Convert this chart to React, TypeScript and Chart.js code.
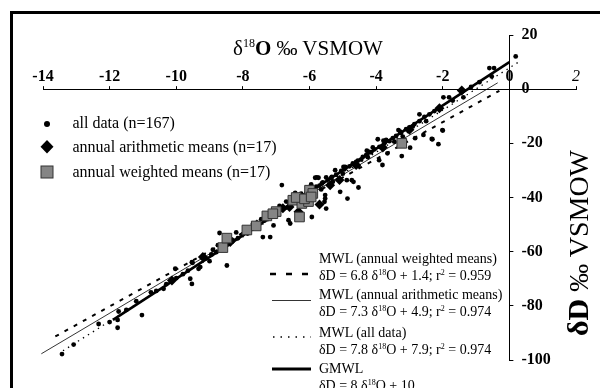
import React, { useEffect, useRef } from "react";
import { Chart, registerables } from "chart.js";

Chart.register(...registerables);

const SERIF = '"Liberation Serif", "Times New Roman", serif';

// Axis ticks
const X_TICKS = [-14, -12, -10, -8, -6, -4, -2, 0, 2];
const Y_TICKS = [-100, -80, -60, -40, -20, 0, 20];

// All data (n=167): d18O and dD values
const ALL_D18O = [
  0.19, -0.6, -0.46, -0.53, -1.43, -1.98, -1.81, -1.38, -2.1, -2.7,
  -2.01, -2.33, -2.58, -2.13, -2.98, -3.28, -3.33, -3.95, -3.78, -3.23,
  -3.66, -3.91, -3.81, -4.23, -4.53, -4.88, -5.08, -4.68, -4.53, -4.86,
  -5.53, -5.5, -5.93, -5.23, -4.93, -2.83, -4.98, -5.33, -4.73, -5.83,
  -5.73, -5.63, -5.53, -6.83, -6.43, -5.55, -5.78, -6.63, -6.58, -7.08,
  -7.4, -7.18, -8.7, -7.86, -8.48, -8.9, -9.28, -9.53, -9.58, -10.03,
  -13.43, -13.08, -11.76, -11.76, -11.73, -12.33, -11.2, -11.03, -10.76, -10.38,
  -9.53, -9.33, -9.51, -9.18, -2.31, -2.0, -4.28,
  -9.1, -8.95, -8.8, -8.65, -8.55, -8.4, -8.3, -8.15, -8.0, -7.9,
  -7.75, -7.65, -7.5, -7.35, -7.25, -7.1, -6.95, -6.85, -6.75, -6.6,
  -6.5, -6.4, -6.3, -6.2, -6.1, -6.0, -5.9, -5.8, -5.7, -5.6,
  -5.45, -5.35, -5.2, -5.05, -4.95, -4.8, -4.7, -4.55, -4.4, -4.3,
  -4.15, -4.05, -3.9, -3.75, -3.6, -3.5, -3.4, -3.25, -3.1, -3.0,
  -2.85, -2.7, -2.55, -2.4, -2.25, -1.15, -0.9, -10.6, -10.3, -10.0,
  -9.8, -9.65, -11.5, -12.0,
  -7.7, -7.0, -6.7, -6.25, -5.95, -5.5, -5.0, -4.6, -4.1, -3.7,
  -3.2, -2.9, -8.2, -8.75, -9.0, -6.05, -5.65, -4.45, -3.45, -2.5,
  -1.7, -7.45, -6.9, -5.3, -4.25,
];
const ALL_DD = [
  12.1, 7.8, 7.8, 4.7, -0.5, -3.0, -3.0, -3.0, -7.0, -9.3,
  -15.1, -18.4, -16.9, -20.3, -21.6, -15.7, -15.1, -18.5, -19.0, -24.7,
  -23.7, -26.2, -28.0, -23.1, -28.4, -33.6, -37.9, -34.2, -36.3, -40.4,
  -40.4, -44.1, -47.2, -29.9, -28.7, -18.1, -28.7, -32.4, -33.6, -32.7,
  -32.7, -34.8, -39.1, -35.4, -38.3, -41.6, -32.6, -48.4, -49.6, -50.3,
  -54.6, -54.6, -53.1, -53.3, -65.1, -59.3, -65.7, -63.9, -70.0, -66.3,
  -97.8, -94.3, -88.1, -85.2, -82.1, -86.7, -78.3, -83.4, -75.0, -73.7,
  -71.9, -66.3, -64.1, -61.4, -18.5, -15.3, -22.7,
  -62.5, -61.0, -60.2, -58.8, -58.0, -57.0, -55.8, -55.0, -53.6, -53.0,
  -51.5, -50.8, -49.6, -48.5, -47.6, -46.4, -45.6, -44.2, -43.8, -42.4,
  -41.8, -40.6, -40.0, -39.2, -38.5, -37.6, -36.9, -36.0, -35.6, -34.4,
  -33.4, -32.8, -31.6, -30.2, -29.6, -28.5, -27.4, -26.4, -25.0, -24.4,
  -23.3, -22.2, -21.3, -20.0, -19.2, -18.1, -17.3, -16.2, -14.8, -14.1,
  -12.9, -11.8, -10.2, -9.3, -8.1, 0.8, 2.6, -74.5, -72.0, -69.8,
  -68.3, -67.0, -81.5, -86.0,
  -49.8, -44.8, -41.5, -38.6, -35.2, -32.6, -31.2, -26.9, -21.5, -18.7,
  -17.5, -13.8, -52.9, -57.6, -63.5, -40.8, -37.0, -26.0, -19.4, -11.8,
  -4.2, -48.0, -43.1, -34.1, -25.1,
];

// Annual arithmetic means (n=17)
const ARITH_D18O = [-10.13, -9.2, -8.38, -7.58, -7.0, -6.6, -6.33, -6.0, -5.7, -5.38, -5.1, -4.6, -3.8, -3.0, -2.1, -1.43, -6.8];
const ARITH_DD = [-70.6, -62.0, -56.4, -50.0, -45.5, -43.5, -45.3, -39.5, -42.6, -35.5, -33.5, -28.0, -21.5, -15.0, -7.0, -0.5, -44.0];

// Annual weighted means (n=17)
const WEIGHTED_D18O = [-8.6, -8.48, -7.88, -7.6, -7.28, -7.0, -6.5, -6.3, -6.23, -6.03, -6.0, -5.9, -3.23, -6.4, -7.1, -6.15, -5.95];
const WEIGHTED_DD = [-58.5, -55.0, -52.0, -50.5, -46.8, -45.2, -41.0, -47.2, -42.2, -41.5, -37.3, -38.5, -20.0, -40.0, -46.0, -40.5, -39.8];

// Regression lines (end points)
const MWL_WEIGHTED_D18O = [-13.63, -0.3];
const MWL_WEIGHTED_DD = [-91.3, -0.6];
const MWL_ARITH_D18O = [-14.05, -0.35];
const MWL_ARITH_DD = [-97.7, 2.35];
const MWL_ALL_D18O = [-13.4, 0.3];
const MWL_ALL_DD = [-96.6, 10.2];
const GMWL_D18O = [-11.9, 0];
const GMWL_DD = [-85.2, 10];

const pts = (xs: number[], ys: number[]) => xs.map((x, i) => ({ x, y: ys[i] }));

const crossAxes = {
  id: "crossAxes",
  afterLayout(chart: any) {
    const xs = chart.scales.x;
    const ys = chart.scales.y;
    const px = xs.getPixelForValue(0);
    const py = ys.getPixelForValue(0);
    ys.left = px;
    ys.right = px + 60;
    ys.width = 60;
    xs.bottom = py;
    xs.top = py - 30;
    xs.height = 30;
  },
};

const sup = (t: string, size = 9, top = -6) => (
  <span style={{ fontSize: size, position: "relative", top, verticalAlign: "baseline" }}>{t}</span>
);

export default function App() {
  const ref = useRef<HTMLCanvasElement>(null);

  useEffect(() => {
    const lineDs = (label: string, xs: number[], ys: number[], width: number, dash: number[], order: number) => ({
      label,
      data: pts(xs, ys),
      showLine: true,
      borderColor: "#000",
      backgroundColor: "#000",
      borderWidth: width,
      borderDash: dash,
      pointRadius: 0,
      fill: false,
      clip: false as any,
      order,
    });
    const chart = new Chart(ref.current as HTMLCanvasElement, {
      type: "scatter",
      data: {
        datasets: [
          {
            label: "annual weighted means (n=17)",
            data: pts(WEIGHTED_D18O, WEIGHTED_DD),
            pointStyle: "rect",
            pointRadius: 6.8,
            backgroundColor: "#858585",
            borderColor: "#333",
            borderWidth: 1,
            clip: false as any,
            order: 1,
          },
          {
            label: "annual arithmetic means (n=17)",
            data: pts(ARITH_D18O, ARITH_DD),
            pointStyle: "rectRot",
            pointRadius: 5,
            backgroundColor: "#000",
            borderColor: "#000",
            borderWidth: 0,
            clip: false as any,
            order: 2,
          },
          {
            label: "all data (n=167)",
            data: pts(ALL_D18O, ALL_DD),
            pointStyle: "circle",
            pointRadius: 2.4,
            backgroundColor: "#000",
            borderWidth: 0,
            clip: false as any,
            order: 3,
          },
          lineDs("GMWL", GMWL_D18O, GMWL_DD, 2.6, [], 4),
          lineDs("MWL (all data)", MWL_ALL_D18O, MWL_ALL_DD, 1.3, [1.4, 4.5], 5),
          lineDs("MWL (annual arithmetic means)", MWL_ARITH_D18O, MWL_ARITH_DD, 0.8, [], 6),
          lineDs("MWL (annual weighted means)", MWL_WEIGHTED_D18O, MWL_WEIGHTED_DD, 2, [4, 6.5], 7),
        ] as any,
      },
      options: {
        animation: false,
        responsive: false,
        devicePixelRatio: 1,
        layout: { padding: { left: 43, right: 24, top: 35, bottom: 28 } },
        plugins: { legend: { display: false }, tooltip: { enabled: false } },
        scales: {
          x: {
            type: "linear",
            position: "top",
            min: -14,
            max: 2,
            afterFit: (s: any) => {
              s.height = 0;
            },
            afterBuildTicks: (s: any) => {
              s.ticks = X_TICKS.map((v) => ({ value: v }));
            },
            grid: { drawOnChartArea: false, drawTicks: true, tickLength: 3, color: "#000", lineWidth: 1 },
            border: { display: true, color: "#000", width: 1 },
            ticks: {
              color: "#000",
              padding: 0,
              maxRotation: 0,
              autoSkip: false,
              callback: (v: any) => String(v),
              font: (ctx: any) =>
                ctx.tick && ctx.tick.value === 2
                  ? { family: SERIF, size: 16, style: "italic", weight: "normal" }
                  : { family: SERIF, size: 16, weight: "bold" },
            },
          },
          y: {
            type: "linear",
            position: "right",
            min: -100,
            max: 20,
            afterFit: (s: any) => {
              s.width = 0;
            },
            afterBuildTicks: (s: any) => {
              s.ticks = Y_TICKS.map((v) => ({ value: v }));
            },
            grid: { drawOnChartArea: false, drawTicks: true, tickLength: 4, color: "#000", lineWidth: 1 },
            border: { display: true, color: "#000", width: 1 },
            ticks: {
              color: "#000",
              padding: 8,
              autoSkip: false,
              callback: (v: any) => String(v),
              font: { family: SERIF, size: 16, weight: "bold" },
            },
          },
        },
      } as any,
      plugins: [crossAxes],
    });
    return () => chart.destroy();
  }, []);

  const text = (top: number, left: number, size: number, content: any, lh = 18) => (
    <div
      style={{
        position: "absolute",
        left,
        top: top - lh / 2,
        lineHeight: lh + "px",
        fontSize: size,
        fontFamily: SERIF,
        whiteSpace: "nowrap",
        color: "#000",
      }}
    >
      {content}
    </div>
  );

  return (
    <div style={{ position: "fixed", left: 0, top: 0, width: 600, height: 388, overflow: "hidden", background: "#fff" }}>
      <div style={{ position: "absolute", left: 10, top: 11, width: 700, height: 500, border: "3px solid #000", boxSizing: "border-box" }} />
      <canvas ref={ref} width={600} height={388} style={{ position: "absolute", left: 0, top: 0, width: 600, height: 388 }} />

      {/* top axis title */}
      {text(
        48,
        233,
        21,
        <span>
          δ{sup("18", 12, -8)}
          <b>O</b> ‰ VSMOW
        </span>,
        24
      )}

      {/* right axis title */}
      <div
        style={{
          position: "absolute",
          left: 578,
          top: 243,
          transform: "translate(-50%, -50%) rotate(-90deg)",
          fontFamily: SERIF,
          fontSize: 28,
          whiteSpace: "nowrap",
          lineHeight: "32px",
        }}
      >
        <b style={{ fontSize: 30 }}>δD</b> ‰ VSMOW
      </div>

      {/* legend markers and line samples */}
      <svg width={600} height={388} style={{ position: "absolute", left: 0, top: 0 }}>
        <circle cx={47} cy={124} r={3} fill="#000" />
        <polygon points="47,140 53.5,146.7 47,153.4 40.5,146.7" fill="#000" />
        <rect x={41} y={166} width={12} height={12} fill="#858585" stroke="#333" strokeWidth={1} />
        <line x1={270} y1={274} x2={311} y2={274} stroke="#000" strokeWidth={2.5} strokeDasharray="6 10" />
        <line x1={272} y1={300.5} x2={311} y2={300.5} stroke="#000" strokeWidth={0.8} />
        <line x1={273} y1={337} x2={311} y2={337} stroke="#000" strokeWidth={1.3} strokeDasharray="1.5 6" />
        <line x1={272} y1={369} x2={311} y2={369} stroke="#000" strokeWidth={3} />
      </svg>

      {text(123, 72.5, 16, "all data (n=167)")}
      {text(147, 72.5, 16, "annual arithmetic means (n=17)")}
      {text(172, 72.5, 16, "annual weighted means (n=17)")}

      {text(259, 319, 14, "MWL (annual weighted means)", 16)}
      {text(276, 319, 14, <span>δD = 6.8 δ{sup("18", 8, -5)}O + 1.4; r{sup("2", 8, -5)} = 0.959</span>, 16)}
      {text(295, 319, 14, "MWL (annual arithmetic means)", 16)}
      {text(312, 319, 14, <span>δD = 7.3 δ{sup("18", 8, -5)}O + 4.9; r{sup("2", 8, -5)} = 0.974</span>, 16)}
      {text(333, 319, 14, "MWL (all data)", 16)}
      {text(350, 319, 14, <span>δD = 7.8 δ{sup("18", 8, -5)}O + 7.9; r{sup("2", 8, -5)} = 0.974</span>, 16)}
      {text(369, 319, 14, "GMWL", 16)}
      {text(386, 319, 14, <span>δD = 8 δ{sup("18", 8, -5)}O + 10</span>, 16)}
    </div>
  );
}
